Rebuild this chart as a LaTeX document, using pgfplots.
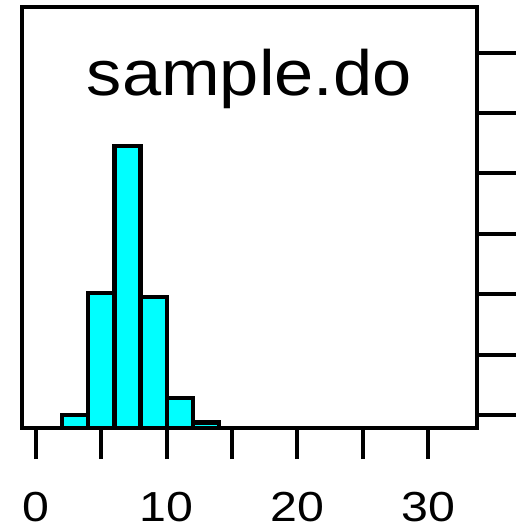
\documentclass[border=0pt]{standalone}
\usepackage{fontspec}
\setmainfont{Liberation Sans}
\newfontfamily\titlefont[FakeStretch=1.1]{Liberation Sans}
\newfontfamily\tickfont[FakeStretch=1.15]{Liberation Sans}
\usepackage{pgfplots}
\pgfplotsset{compat=1.18}
\definecolor{barfill}{RGB}{0,255,255}

\begin{document}
\begin{tikzpicture}
\begin{axis}[
  name=ax,
  scale only axis,
  width=454.7pt, height=421pt,
  xmin=-1.07, xmax=33.72,
  ymin=0, ymax=34.85,
  axis line style={line width=4pt, line join=miter},
  tick style={line width=4pt, black},
  tick align=outside,
  xtick pos=bottom, ytick pos=right,
  major tick length=31pt,
  xtick={0,5,...,30},
  xticklabels={0,,10,,20,,30},
  xticklabel style={font=\tickfont\fontsize{42}{46}\selectfont, anchor=base, yshift=-62pt},
  ytick=\empty,
  extra y ticks={1.08,6.08,11.08,16.08,21.08,26.08,31.08},
  extra y tick labels={},
  extra y tick style={major tick length=40pt},
  /pgf/number format/assume math mode=true,
]
% histogram of sample.do, bins of width 2 (percent per unit)
\addplot[ybar interval, fill=barfill, draw=black, line width=4.3pt, line join=miter]
  coordinates {(2,1.08) (4,11.18) (6,23.32) (8,10.84) (10,2.48) (12,0.46) (14,0.46)};
\node[font=\titlefont\fontsize{64}{70}\selectfont, anchor=base, yshift=-89pt]
  at (rel axis cs:0.5,1) {sample.do};
\end{axis}
\pgfresetboundingbox
\path[use as bounding box] (ax.south west) ++(-22pt,-103pt) rectangle ++(516pt,531pt);
\end{tikzpicture}
\end{document}
